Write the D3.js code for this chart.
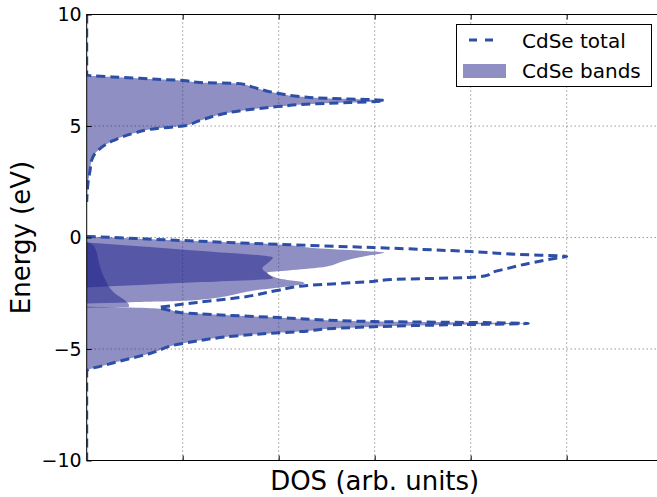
<!DOCTYPE html>
<html lang="en">
<head>
<meta charset="utf-8">
<title>CdSe DOS</title>
<script src="https://d3js.org/d3.v7.min.js"></script>
<style>
  body { margin: 0; background: #fff; }
  text { font-family: "DejaVu Sans", sans-serif; fill: #000; }
</style>
</head>
<body>
<script>
// energies (eV) and DOS (arb. units)

// total DOS (null = no line drawn)
const totalE = [10, 7.3, 7.27, 7.2, 7.1, 7.04, 6.95, 6.9, 6.73, 6.46, 6.32, 6.23, 6.19, 6.14, 6.08, 6.05, 6.0, 5.87, 5.7, 5.25, 5.0, 4.89, 4.66, 4.35, 3.83, 3.45, 3.0, 2.56, 2.0, 1.6, 1.0,
  0.05, 0, -0.13, -0.31, -0.45, -0.63, -0.76, -0.85, -0.9, -1.12, -1.39, -1.57, -1.7, -1.79, -1.88, -1.97, -2.15, -2.38, -2.69, -2.91, -3.05, -3.15, -3.25, -3.36,
  -3.59, -3.77, -3.81, -3.86, -3.9, -3.95, -4.0, -4.08, -4.22, -4.3, -4.75, -5.2, -5.43, -5.78, -5.92, -6.0, -10];
const totalDos = [0, 0, 0.02, 0.27, 0.73, 1.0, 1.18, 1.6, 1.74, 2.0, 2.22, 2.57, 2.92, 3.1, 2.95, 2.74, 2.4, 1.99, 1.63, 1.18, 1.0, 0.73, 0.48, 0.28, 0.10, 0.05, 0.035, 0.017, 0.005, 0, null,
  0, 0.27, 0.97, 2.0, 2.98, 4.0, 4.5, 5.0, 4.93, 4.65, 4.38, 4.22, 4.17, 3.99, 3.19, 2.98, 2.3, 1.98, 1.6, 1.15, 0.9, 0.75, 0.85, 0.97,
  2.0, 3.0, 4.0, 4.6, 4.0, 3.4, 3.0, 2.57, 2.22, 1.9, 1.0, 0.66, 0.45, 0.14, 0.02, 0, 0];

// conduction band
const cbE   = [7.3, 7.27, 7.2, 7.1, 7.04, 6.95, 6.9, 6.73, 6.46, 6.32, 6.23, 6.19, 6.14, 6.08, 6.05, 6.0, 5.87, 5.7, 5.25, 5.0, 4.89, 4.66, 4.35, 3.83, 3.45, 3.0, 2.56, 2.0, 1.6];
const cbDos = [0, 0.02, 0.27, 0.73, 1.0, 1.18, 1.6, 1.74, 2.0, 2.22, 2.57, 2.92, 3.1, 2.95, 2.74, 2.4, 1.99, 1.63, 1.18, 1.0, 0.73, 0.48, 0.28, 0.10, 0.05, 0.035, 0.017, 0.005, 0];

// upper valence band
const vbAE   = [0.05, 0, -0.13, -0.31, -0.49, -0.6, -0.67, -0.8, -1.03, -1.35, -1.48, -1.57, -1.84, -2.0, -2.24];
const vbADos = [0, 0.27, 0.97, 2.0, 2.43, 2.9, 3.1, 2.95, 2.7, 2.43, 2.1, 1.88, 1.94, 1.2, 0];

// second valence band
const vbBE   = [-0.22, -0.58, -0.9, -1.1, -1.39, -1.57, -1.75, -1.84, -2.04, -2.38, -2.83, -2.91, -2.96];
const vbBDos = [0, 1.12, 1.94, 1.9, 1.83, 1.87, 1.94, 2.0, 2.27, 1.74, 1.08, 0.42, 0];

// narrow band near the axis
const vbCE   = [-0.2, -0.35, -0.51, -1.18, -1.78, -2.45, -2.9, -3.02, -3.12, -3.15];
const vbCDos = [0, 0.07, 0.09, 0.13, 0.18, 0.28, 0.42, 0.44, 0.44, 0];

// lower valence band
const vbDE   = [-3.1, -3.14, -3.2, -3.36, -3.59, -3.77, -3.81, -3.86, -3.9, -3.95, -4.0, -4.08, -4.22, -4.3, -4.75, -5.2, -5.43, -5.78, -5.92, -5.95];
const vbDDos = [0, 0.45, 0.78, 1.0, 2.0, 3.0, 4.0, 4.6, 4.0, 3.4, 3.0, 2.57, 2.22, 1.9, 1.0, 0.66, 0.45, 0.14, 0.02, 0];

const xGrid = [1, 2, 3, 4, 5];
const yTicks = [-10, -5, 0, 5, 10];

const w = 657, h = 497;
const padLeft = 86.7, padTop = 14.5, padBottom = 460.5, padRight = 662.7;
const bandColor = "rgb(31,31,137)";
const lineColor = "#2c4ea6";

const zip = (E, D) => E.map((e, i) => [e, D[i]]);
const bands = [zip(cbE, cbDos), zip(vbAE, vbADos), zip(vbBE, vbBDos), zip(vbCE, vbCDos), zip(vbDE, vbDDos)];
const total = zip(totalE, totalDos);

const x = d3.scaleLinear().domain([0, 6]).range([padLeft, padRight]);
const y = d3.scaleLinear().domain([-10, 10]).range([padBottom, padTop]);

const svg = d3.select("body").append("svg")
  .attr("width", w).attr("height", h);

svg.append("clipPath").attr("id", "plot")
  .append("rect")
  .attr("x", padLeft).attr("y", padTop)
  .attr("width", padRight - padLeft).attr("height", padBottom - padTop);

// grid
svg.append("g")
  .selectAll("line").data(xGrid).enter().append("line")
  .attr("x1", d => x(d)).attr("x2", d => x(d))
  .attr("y1", padTop).attr("y2", padBottom)
  .attr("stroke", "#000").attr("stroke-opacity", 0.75)
  .attr("stroke-width", 0.8).attr("stroke-dasharray", "1,3");
svg.append("g")
  .selectAll("line").data(yTicks).enter().append("line")
  .attr("x1", padLeft).attr("x2", padRight)
  .attr("y1", d => y(d)).attr("y2", d => y(d))
  .attr("stroke", "#000").attr("stroke-opacity", 0.75)
  .attr("stroke-width", 0.8).attr("stroke-dasharray", "1,3");

// bands
const area = d3.area()
  .y(d => y(d[0]))
  .x0(x(0))
  .x1(d => x(d[1]))
  .curve(d3.curveMonotoneY);

const plot = svg.append("g").attr("clip-path", "url(#plot)");
plot.selectAll("path.band").data(bands).enter().append("path")
  .attr("class", "band")
  .attr("d", area)
  .attr("fill", bandColor)
  .attr("fill-opacity", 0.5);

// total
const line = d3.line()
  .defined(d => d[1] != null)
  .y(d => y(d[0]))
  .x(d => x(d[1]))
  .curve(d3.curveMonotoneY);

plot.append("path")
  .datum(total)
  .attr("d", line)
  .attr("fill", "none")
  .attr("stroke", lineColor)
  .attr("stroke-width", 3)
  .attr("stroke-dasharray", "9,5");

// axes with inward ticks
const yAxis = d3.axisLeft(y).tickValues(yTicks)
  .tickSizeInner(-5).tickSizeOuter(0).tickPadding(5)
  .tickFormat(d => d3.format("d")(d).replace("-", "\u2212"));
svg.append("g").attr("transform", `translate(${padLeft},0)`).call(yAxis)
  .call(g => g.select(".domain").remove())
  .call(g => g.selectAll("text").attr("font-size", 19).attr("font-family", "DejaVu Sans"));

const xAxis = d3.axisBottom(x).tickValues(xGrid)
  .tickSizeInner(-5).tickSizeOuter(0).tickFormat("");
svg.append("g").attr("transform", `translate(0,${padBottom})`).call(xAxis)
  .call(g => g.select(".domain").remove());
const xAxisTop = d3.axisTop(x).tickValues(xGrid)
  .tickSizeInner(-5).tickSizeOuter(0).tickFormat("");
svg.append("g").attr("transform", `translate(0,${padTop})`).call(xAxisTop)
  .call(g => g.select(".domain").remove());

svg.append("rect")
  .attr("x", padLeft).attr("y", padTop)
  .attr("width", padRight - padLeft).attr("height", padBottom - padTop)
  .attr("fill", "none").attr("stroke", "#000").attr("stroke-width", 1);

// labels
svg.append("text")
  .attr("x", (padLeft + padRight) / 2).attr("y", 490)
  .attr("text-anchor", "middle").attr("font-size", 26)
  .text("DOS (arb. units)");
svg.append("text")
  .attr("transform", `translate(30,${(padTop + padBottom) / 2}) rotate(-90)`)
  .attr("text-anchor", "middle").attr("font-size", 26)
  .text("Energy (eV)");

// legend
const lg = svg.append("g");
lg.append("rect")
  .attr("x", 456.5).attr("y", 24.5).attr("width", 195).attr("height", 62)
  .attr("fill", "#fff").attr("stroke", "#000").attr("stroke-width", 1);
lg.append("line")
  .attr("x1", 469).attr("x2", 501).attr("y1", 40).attr("y2", 40)
  .attr("stroke", lineColor).attr("stroke-width", 3).attr("stroke-dasharray", "8,8");
lg.append("rect")
  .attr("x", 463).attr("y", 64).attr("width", 43).attr("height", 14)
  .attr("fill", bandColor).attr("fill-opacity", 0.5);
lg.append("text").attr("x", 522).attr("y", 48).attr("font-size", 20).text("CdSe total");
lg.append("text").attr("x", 522).attr("y", 78).attr("font-size", 20).text("CdSe bands");
</script>
</body>
</html>
